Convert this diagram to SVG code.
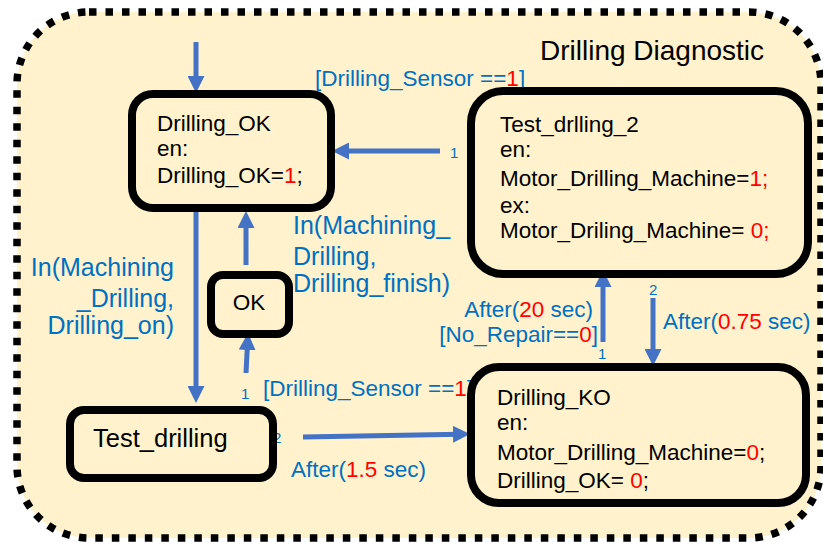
<svg xmlns="http://www.w3.org/2000/svg" width="823" height="542" viewBox="0 0 823 542">
<style>
text{font-family:"Liberation Sans",Arial,sans-serif;}
.node{fill:#FFF2CC;stroke:#000;stroke-width:8;}
.t{font-size:22.5px;fill:#000;}
.b{font-size:22.5px;fill:#0070C0;}
.bl{font-size:25px;fill:#0070C0;}
.n{font-size:15px;fill:#0070C0;}
.r{fill:#FF0000;}
.k{fill:#000;}
.arr{stroke:#4472C4;stroke-width:5;fill:none;marker-end:url(#ah);}
</style>
<defs>
<marker id="ah" markerUnits="userSpaceOnUse" markerWidth="17" markerHeight="17" viewBox="0 0 17 17" refX="7" refY="8.5" orient="auto">
<path d="M0,0 L17,8.5 L0,17 z" fill="#4472C4"/>
</marker>
</defs>
<rect width="823" height="542" fill="#fff"/>
<rect id="container" x="17" y="12" width="804" height="526" rx="72" ry="72" fill="#FFF2CC" stroke="#000" stroke-width="7.5" stroke-dasharray="7.5 9"/>
<text x="540" y="60" style="font-size:28px" class="k">Drilling Diagnostic</text>

<g id="connectors">
<line class="arr" x1="196" y1="42" x2="196" y2="83"/>
<line class="arr" x1="440" y1="151" x2="342" y2="151"/>
<line class="arr" x1="196" y1="212" x2="196" y2="393"/>
<line class="arr" x1="246" y1="265" x2="246" y2="221"/>
<line class="arr" x1="246" y1="373" x2="247.5" y2="343"/>
<line class="arr" x1="303" y1="437" x2="460" y2="434.2"/>
<line class="arr" x1="603" y1="342" x2="603" y2="280"/>
<line class="arr" x1="653" y1="298" x2="653" y2="356"/>
</g>

<g id="labels">
<text class="b" x="315" y="86">[Drilling_Sensor ==<tspan class="r">1</tspan>]</text>
<text class="n" x="450" y="158">1</text>
<text class="bl" x="293" y="234">In(Machining_</text>
<text class="bl" x="293" y="265">Drilling,</text>
<text class="bl" x="293" y="292">Drilling_finish)</text>
<text class="bl" x="174" y="276" text-anchor="end">In(Machining</text>
<text class="bl" x="174" y="307" text-anchor="end">_Drilling,</text>
<text class="bl" x="174" y="334" text-anchor="end">Drilling_on)</text>
<text class="n" x="241" y="399">1</text>
<text class="b" x="263" y="396">[Drilling_Sensor ==<tspan class="r">1</tspan>]</text>
<text class="n" x="273" y="443">2</text>
<text class="b" x="291" y="477">After(<tspan class="r">1.5</tspan> sec)</text>
<text class="b" x="593" y="317" text-anchor="end">After(<tspan class="r">20</tspan> sec)</text>
<text class="b" x="598" y="342" text-anchor="end">[No_Repair==<tspan class="r">0</tspan>]</text>
<text class="n" x="598" y="359">1</text>
<text class="n" x="649" y="295">2</text>
<text class="b" x="663" y="329">After(<tspan class="r">0.75</tspan> sec)</text>
</g>

<g id="Drilling_OK">
<rect class="node" x="132" y="94" width="199" height="114" rx="21"/>
<text class="t" x="157" y="131">Drilling_OK</text>
<text class="t" x="157" y="156">en:</text>
<text class="t" x="157" y="183">Drilling_OK=<tspan class="r">1</tspan>;</text>
</g>

<g id="Test_drlling_2">
<rect class="node" x="471" y="91" width="337" height="183" rx="32"/>
<text class="t" x="500" y="132">Test_drlling_2</text>
<text class="t" x="500" y="157">en:</text>
<text class="t" x="500" y="186">Motor_Drilling_Machine=<tspan class="r">1;</tspan></text>
<text class="t" x="500" y="213">ex:</text>
<text class="t" x="500" y="238">Motor_Driling_Machine= <tspan class="r">0;</tspan></text>
</g>

<g id="OK">
<rect class="node" x="211" y="275" width="78" height="59" rx="12"/>
<text class="t" x="249" y="310" text-anchor="middle">OK</text>
</g>

<g id="Test_drilling">
<rect class="node" x="70" y="410" width="203" height="68" rx="14"/>
<text class="t" x="93" y="447" style="font-size:25.5px">Test_drilling</text>
</g>

<g id="Drilling_KO">
<rect class="node" x="471" y="367" width="335" height="136" rx="28"/>
<text class="t" x="497" y="405">Drilling_KO</text>
<text class="t" x="497" y="430">en:</text>
<text class="t" x="497" y="460">Motor_Drilling_Machine=<tspan class="r">0</tspan>;</text>
<text class="t" x="497" y="488">Drilling_OK= <tspan class="r">0</tspan>;</text>
</g>
</svg>
